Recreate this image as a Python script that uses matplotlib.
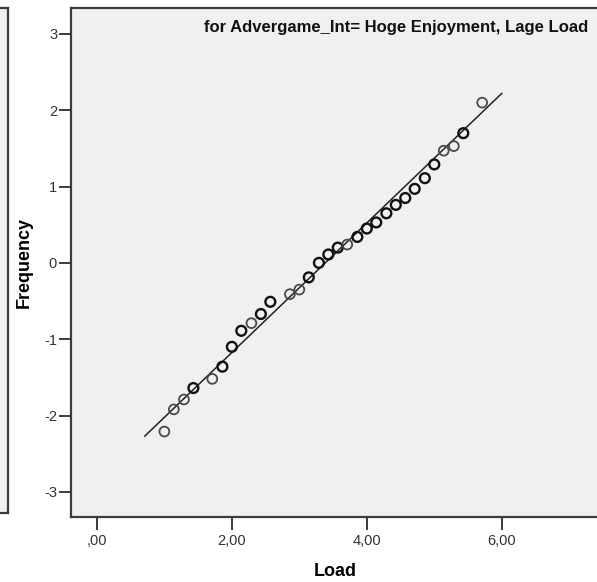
import numpy as np
import matplotlib
matplotlib.use("Agg")
import matplotlib.pyplot as plt

plt.rcParams["font.family"] = ["Liberation Sans", "DejaVu Sans"]
plt.rcParams["axes.unicode_minus"] = False

# observed Load values and expected normal values (Q-Q plot)
load_obs = [1.00, 1.14, 1.29, 1.43, 1.71, 1.86, 2.00, 2.14, 2.29, 2.43, 2.57,
            2.86, 3.00, 3.14, 3.29, 3.43, 3.57, 3.71, 3.86, 4.00, 4.14, 4.29,
            4.43, 4.57, 4.71, 4.86, 5.00, 5.14, 5.29, 5.43, 5.71]
expected = [-2.21, -1.92, -1.79, -1.64, -1.52, -1.36, -1.10, -0.89, -0.79, -0.67, -0.51,
            -0.41, -0.35, -0.19, 0.00, 0.11, 0.20, 0.24, 0.34, 0.45, 0.53, 0.65,
            0.76, 0.85, 0.97, 1.11, 1.29, 1.47, 1.53, 1.70, 2.10]
# 2 = overlapping cases (drawn darker)
counts = [1, 1, 1, 2, 1, 2, 2, 2, 1, 2, 2,
          1, 1, 2, 2, 2, 2, 1, 2, 2, 2, 2,
          2, 2, 2, 2, 2, 1, 1, 2, 1]

load_mean = 3.384
load_sd = 1.178
line_x = [0.71, 6.0]

x_ticks = [0, 2, 4, 6]
x_labels = [",00", "2,00", "4,00", "6,00"]
y_ticks = [-3, -2, -1, 0, 1, 2, 3]

title = "for Advergame_Int= Hoge Enjoyment, Lage Load"

bg = "#f0f0f0"
frame = "#3c3c3c"

fig = plt.figure(figsize=(5.97, 5.82), dpi=100)

# neighbouring panel, cut off at the left edge
ax0 = fig.add_axes([-0.2, 69 / 582, 0.2 + 8 / 597, 505 / 582])
ax0.set_facecolor(bg)
ax0.set_xticks([])
ax0.set_yticks([])
for s in ax0.spines.values():
    s.set_color(frame)
    s.set_linewidth(1.6)

ax = fig.add_axes([71 / 597, 65 / 582, 1 - 71 / 597 + 0.01, 509 / 582])
ax.set_facecolor(bg)

lx = np.array(line_x)
ax.plot(lx, (lx - load_mean) / load_sd, color="#222222", lw=1.1, zorder=2)

cols = ["#4a4a4a" if c == 1 else "#111111" for c in counts]
lws = [1.3 if c == 1 else 1.7 for c in counts]
ax.scatter(load_obs, expected, s=50, facecolors="none", edgecolors=cols,
           linewidths=lws, zorder=3)

ax.set_xlim(-0.384, 7.5)
ax.set_ylim(-3.33, 3.34)
ax.set_xticks(x_ticks)
ax.set_xticklabels(x_labels)
ax.set_yticks(y_ticks)
ax.tick_params(axis="both", direction="out", length=9, width=1.4, color=frame,
               labelsize=10.5, labelcolor="#333333")
ax.tick_params(axis="x", pad=3)
ax.tick_params(axis="y", pad=1)

for side in ["left", "bottom", "top"]:
    ax.spines[side].set_color(frame)
    ax.spines[side].set_linewidth(1.6)
ax.spines["right"].set_visible(False)

ax.text(0.972, 0.977, title, transform=ax.transAxes, ha="right", va="top",
        fontsize=12, fontweight="bold", color="#111111")

ax.set_xlabel("Load", fontsize=13, fontweight="bold")
ax.set_ylabel("Frequency", fontsize=13, fontweight="bold")
ax.xaxis.set_label_coords((335 - 71) / 532, -0.090)
ax.yaxis.set_label_coords(-0.0714, 0.5)

fig.savefig("out.png", dpi=100)
